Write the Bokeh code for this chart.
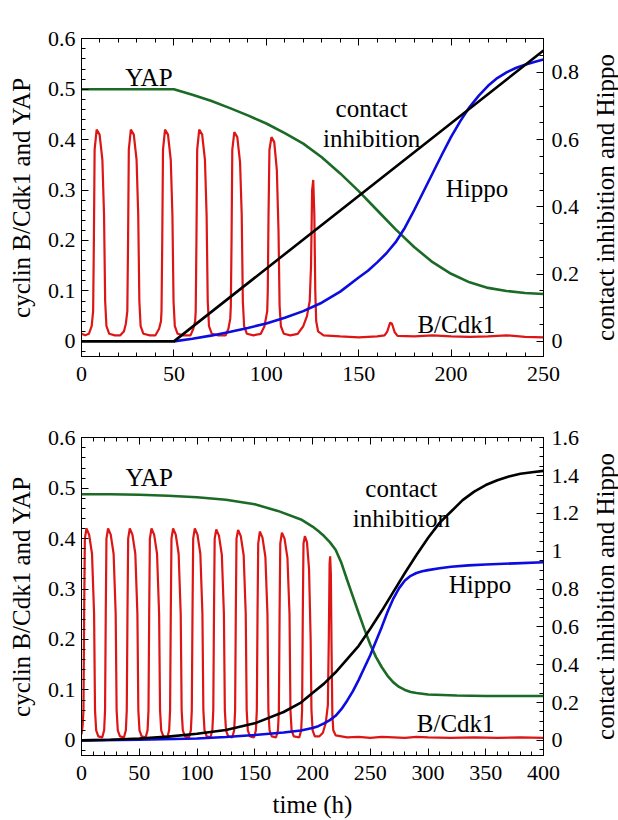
import math
from bokeh.plotting import figure
from bokeh.models import (Range1d, LinearAxis, SingleIntervalTicker, FixedTicker, Label,
                          CustomJSTickFormatter)
from bokeh.layouts import column, row
from bokeh.embed import file_html
from bokeh.resources import INLINE
from bokeh.core.properties import value

# ---------------- Panel (a) data ----------------
a_cdk1_pts = [
    (0, 0.015), (2, 0.012), (4, 0.015), (5.5, 0.03), (6.3, 0.06), (6.7, 0.2), (7.1, 0.38),
    (8.2, 0.42), (9.8, 0.41), (11.3, 0.36), (12.2, 0.25), (12.8, 0.08), (13.5, 0.03),
    (15, 0.015), (18, 0.012), (21, 0.012), (23, 0.02), (24, 0.035), (24.8, 0.06),
    (25.2, 0.2), (25.6, 0.38), (26.7, 0.42), (28.3, 0.41), (29.8, 0.36), (30.7, 0.25),
    (31.3, 0.08), (32, 0.03), (33.5, 0.015), (37, 0.012), (40, 0.012), (42, 0.025),
    (43, 0.04), (43.3, 0.06), (43.7, 0.2), (44.1, 0.38), (45.2, 0.42), (46.8, 0.41),
    (48.3, 0.36), (49.2, 0.25), (49.8, 0.08), (50.5, 0.03), (52, 0.015), (55, 0.012),
    (59, 0.012), (60.5, 0.025), (61.5, 0.04), (61.8, 0.06), (62.2, 0.2), (62.6, 0.38),
    (63.7, 0.42), (65.3, 0.41), (66.8, 0.36), (67.7, 0.25), (68.3, 0.08), (69, 0.03),
    (70.5, 0.015), (74, 0.012), (78, 0.012), (79.5, 0.025), (80.5, 0.045), (80.8, 0.07),
    (81.2, 0.2), (81.6, 0.38), (82.7, 0.415), (84.3, 0.405), (85.8, 0.355), (86.7, 0.25),
    (87.3, 0.08), (88, 0.03), (89.5, 0.015), (93, 0.012), (97, 0.015), (99, 0.03),
    (100.5, 0.06), (100.8, 0.1), (101.2, 0.25), (101.7, 0.38), (102.8, 0.405), (104.3, 0.395),
    (105.7, 0.34), (106.6, 0.22), (107.2, 0.07), (107.9, 0.03), (109.5, 0.015), (113, 0.012),
    (117, 0.015), (120, 0.03), (122, 0.05), (123.5, 0.08), (124.2, 0.15), (124.8, 0.3),
    (125.4, 0.32), (126, 0.25), (126.5, 0.1), (127, 0.04), (128, 0.02), (131, 0.012),
    (140, 0.01), (150, 0.008), (160, 0.01), (164, 0.012), (165.5, 0.02), (167, 0.037),
    (168, 0.035), (169.5, 0.018), (171, 0.011), (180, 0.01), (190, 0.012), (200, 0.01),
    (210, 0.009), (220, 0.01), (230, 0.012), (240, 0.009), (250, 0.008),
]
a_time_yap = [0, 50, 60, 70, 80, 90, 100, 110, 120, 130, 140, 150, 160, 170, 180, 190,
              200, 210, 220, 230, 240, 250]
a_yap = [0.5, 0.5, 0.489, 0.477, 0.463, 0.448, 0.432, 0.413, 0.392, 0.365, 0.333, 0.298,
         0.26, 0.222, 0.187, 0.157, 0.134, 0.117, 0.106, 0.1, 0.096, 0.094]
a_time_ci = [0, 50, 250]
a_ci = [0, 0, 0.865]
a_time_hippo = [50, 60, 70, 80, 90, 100, 110, 120, 130, 140, 150, 155, 160, 165, 170, 175,
                180, 185, 190, 195, 200, 205, 210, 215, 220, 225, 230, 235, 240, 245, 250]
a_hippo = [0, 0.008, 0.017, 0.028, 0.04, 0.053, 0.07, 0.09, 0.115, 0.148, 0.19, 0.21,
           0.235, 0.262, 0.295, 0.338, 0.39, 0.445, 0.5, 0.555, 0.608, 0.655, 0.697, 0.731,
           0.76, 0.783, 0.80, 0.813, 0.823, 0.831, 0.838]
a_labels = ["YAP", "contact", "inhibition", "Hippo", "B/Cdk1"]
a_label_x = [36.5, 157, 157, 214, 202.8]
a_label_y = [0.523, 0.462, 0.402, 0.303, 0.034]

# ---------------- Panel (b) data ----------------
b_cdk1_pts = [
    (0, 0.012), (1.0, 0.03), (1.7, 0.06), (2.3, 0.25), (2.9, 0.40), (4.3, 0.42), (6.6, 0.408),
    (9.1, 0.37), (10.9, 0.25), (11.7, 0.06), (12.7, 0.02), (14.6, 0.008),
    (18.0, 0.006), (19.6, 0.02), (20.4, 0.06), (21.0, 0.25), (21.6, 0.40), (23.0, 0.42),
    (25.3, 0.408), (27.8, 0.37), (29.6, 0.25), (30.4, 0.06), (31.4, 0.02), (33.3, 0.008),
    (36.8, 0.006), (38.4, 0.02), (39.2, 0.06), (39.8, 0.25), (40.4, 0.40), (41.8, 0.42),
    (44.1, 0.408), (46.6, 0.37), (48.4, 0.25), (49.2, 0.06), (50.2, 0.02), (52.1, 0.008),
    (55.6, 0.006), (57.2, 0.02), (58.0, 0.06), (58.6, 0.25), (59.2, 0.40), (60.6, 0.42),
    (62.9, 0.408), (65.4, 0.37), (67.2, 0.25), (68.0, 0.06), (69.0, 0.02), (70.9, 0.008),
    (74.3, 0.006), (75.9, 0.02), (76.7, 0.06), (77.3, 0.25), (77.9, 0.40), (79.3, 0.42),
    (81.6, 0.408), (84.1, 0.37), (85.9, 0.25), (86.7, 0.06), (87.7, 0.02), (89.6, 0.008),
    (93.1, 0.006), (94.7, 0.02), (95.5, 0.06), (96.1, 0.25), (96.7, 0.40), (98.1, 0.42),
    (100.4, 0.408), (102.9, 0.37), (104.7, 0.25), (105.5, 0.06), (106.5, 0.02), (108.4, 0.008),
    (111.7, 0.006), (113.3, 0.02), (114.1, 0.06), (114.7, 0.25), (115.3, 0.40), (116.7, 0.418),
    (119.0, 0.406), (121.5, 0.368), (123.3, 0.25), (124.1, 0.06), (125.1, 0.02), (127.0, 0.008),
    (130.6, 0.006), (132.2, 0.02), (133.0, 0.06), (133.6, 0.25), (134.2, 0.40), (135.6, 0.417),
    (137.9, 0.405), (140.4, 0.367), (142.2, 0.25), (143.0, 0.06), (144.0, 0.02), (145.9, 0.008),
    (149.4, 0.006), (151.0, 0.02), (151.8, 0.06), (152.4, 0.25), (153.0, 0.39), (154.4, 0.414),
    (156.7, 0.402), (159.2, 0.364), (161.0, 0.25), (161.8, 0.06), (162.8, 0.02), (164.7, 0.008),
    (168.5, 0.006), (170.1, 0.02), (170.9, 0.06), (171.5, 0.25), (172.1, 0.39), (173.5, 0.412),
    (175.8, 0.40), (178.3, 0.362), (180.1, 0.25), (180.9, 0.06), (181.9, 0.02), (183.8, 0.008),
    (188.6, 0.006), (190.2, 0.02), (191.0, 0.06), (191.6, 0.25), (192.2, 0.39), (193.4, 0.405),
    (195.2, 0.393), (197.0, 0.34), (198.4, 0.2), (199.1, 0.06), (200.1, 0.02), (202.0, 0.008),
    (206, 0.008), (209, 0.015), (211.5, 0.035), (213.3, 0.07), (214.1, 0.2), (214.8, 0.35),
    (215.3, 0.365), (215.9, 0.33), (216.5, 0.18), (217.2, 0.05), (218, 0.02), (220, 0.01),
    (230, 0.006), (240, 0.007), (250, 0.005), (260, 0.007), (270, 0.006), (280, 0.005),
    (290, 0.007), (300, 0.006), (320, 0.005), (340, 0.006), (360, 0.005), (380, 0.006),
    (400, 0.005),
]
b_time_yap = [0, 25, 50, 75, 100, 125, 150, 170, 190, 200, 205, 210, 215, 220, 225, 230,
              235, 240, 245, 250, 255, 260, 265, 270, 275, 280, 285, 290, 300, 325, 350,
              375, 400]
b_yap = [0.488, 0.488, 0.487, 0.485, 0.482, 0.477, 0.468, 0.455, 0.438, 0.424, 0.415, 0.405,
         0.393, 0.378, 0.352, 0.318, 0.285, 0.252, 0.22, 0.19, 0.165, 0.145, 0.128, 0.115,
         0.106, 0.100, 0.096, 0.094, 0.091, 0.089, 0.088, 0.088, 0.088]
b_time_ci = [0, 25, 50, 75, 100, 125, 150, 175, 190, 200, 210, 220, 230, 240, 250, 260,
             270, 280, 290, 300, 310, 320, 330, 340, 350, 360, 370, 380, 390, 400]
b_ci = [0, 0.003, 0.01, 0.02, 0.035, 0.055, 0.09, 0.15, 0.2, 0.25, 0.3, 0.36, 0.43, 0.50,
        0.59, 0.685, 0.785, 0.885, 0.98, 1.07, 1.15, 1.21, 1.27, 1.315, 1.35, 1.375, 1.395,
        1.41, 1.418, 1.425]
b_time_hippo = [0, 50, 100, 125, 150, 175, 190, 200, 205, 210, 215, 220, 225, 230, 235,
                240, 245, 250, 255, 260, 265, 270, 275, 280, 285, 290, 295, 300, 310, 320,
                335, 350, 375, 400]
b_hippo = [0, 0.003, 0.01, 0.018, 0.028, 0.042, 0.052, 0.065, 0.075, 0.09, 0.107, 0.13,
           0.165, 0.21, 0.26, 0.32, 0.385, 0.45, 0.525, 0.6, 0.68, 0.75, 0.805, 0.845, 0.87,
           0.885, 0.894, 0.9, 0.91, 0.918, 0.925, 0.93, 0.936, 0.942]
b_labels = ["YAP", "contact", "inhibition", "Hippo", "B/Cdk1"]
b_label_x = [58.6, 277, 277, 345, 324]
b_label_y = [0.522, 0.50, 0.44, 0.309, 0.034]

LEFT_TITLE = "cyclin B/Cdk1 and YAP"
RIGHT_TITLE = "contact inhibition and Hippo"

RED = "#dd1515"
GREEN = "#1b6a25"
BLUE = "#0c0ce0"
BLACK = "#000000"
FONT = "'Liberation Serif', 'Times New Roman', 'DejaVu Serif', serif"
TICK_SIZE = "22px"
TITLE_SIZE = "25px"
ANN_SIZE = "25px"

FRAME_W = 462.0   # px, frame width
BORDER_L = 81
MAIN_W = 584
TITLE_W = 618 - MAIN_W
Y_LO, Y_HI = -0.03, 0.6005   # tiny headroom so the 0.6 tick is labelled


def style_axis(ax, label=True):
    ax.axis_line_color = "black"
    ax.axis_line_width = 1
    ax.major_tick_line_color = "black"
    ax.minor_tick_line_color = "black"
    ax.major_tick_in = 7
    ax.major_tick_out = 0
    ax.minor_tick_in = 4
    ax.minor_tick_out = 0
    ax.major_label_text_font = FONT
    ax.major_label_text_font_style = "normal"
    ax.major_label_text_color = "black"
    ax.axis_label_text_font = FONT
    ax.axis_label_text_font_style = "normal"
    ax.axis_label_text_font_size = TITLE_SIZE
    ax.axis_label_text_color = "black"
    ax.major_label_text_font_size = TICK_SIZE
    if not label:
        ax.formatter = CustomJSTickFormatter(code="return '';")
        ax.major_label_standoff = 0


def make_panel(height, border_top, border_bottom, xmax, rscale, rint,
               cdk1_pts, t_yap, yap, t_ci, ci, t_hip, hip,
               labels, lx, ly, tag, tag_y, xlabel=None):
    yrange = Range1d(Y_LO, Y_HI)
    p = figure(width=MAIN_W, height=height, x_range=Range1d(0, xmax),
               y_range=yrange, output_backend="svg",
               toolbar_location=None, x_axis_type=None, y_axis_type=None,
               min_border_left=BORDER_L, min_border_right=MAIN_W - BORDER_L - int(FRAME_W),
               min_border_top=border_top, min_border_bottom=border_bottom)
    p.extra_y_ranges = {"r": Range1d(Y_LO * rscale, Y_HI * rscale)}
    p.outline_line_color = "black"
    p.outline_line_width = 1
    p.outline_line_alpha = 1
    p.background_fill_color = "white"
    p.border_fill_color = "white"

    xb = LinearAxis(ticker=SingleIntervalTicker(interval=50, num_minor_ticks=5))
    style_axis(xb)
    xb.major_label_standoff = 10
    if xlabel:
        xb.axis_label = xlabel
        xb.axis_label_standoff = 8
    p.add_layout(xb, "below")

    xt = LinearAxis(ticker=SingleIntervalTicker(interval=50, num_minor_ticks=5))
    style_axis(xt, label=False)
    p.add_layout(xt, "above")

    yl = LinearAxis(ticker=SingleIntervalTicker(interval=0.1, num_minor_ticks=5),
                    axis_label=LEFT_TITLE,
                    major_label_overrides={0: "0"})
    style_axis(yl)
    yl.major_label_standoff = 6
    yl.axis_label_standoff = 10
    p.add_layout(yl, "left")

    yr = LinearAxis(y_range_name="r",
                    ticker=SingleIntervalTicker(interval=rint, num_minor_ticks=4),
                    major_label_overrides={0: "0"})
    style_axis(yr)
    yr.major_label_standoff = 8
    p.add_layout(yr, "right")

    ct = [q[0] for q in cdk1_pts]
    cv = [q[1] for q in cdk1_pts]
    p.line(ct, cv, line_color=RED, line_width=2.2)
    p.line(t_yap, yap, line_color=GREEN, line_width=2.6)
    p.line(t_hip, hip, line_color=BLUE, line_width=2.6, y_range_name="r")
    p.line(t_ci, ci, line_color=BLACK, line_width=2.6, y_range_name="r")

    p.text(x=lx, y=ly, text=labels, text_font=value(FONT), text_font_size=ANN_SIZE,
           text_align="center", text_baseline="middle", text_color="black")

    px_per_x = FRAME_W / xmax
    lab = Label(x=-(BORDER_L - 1) / px_per_x, y=tag_y, text=tag, text_font=FONT,
                text_font_style="italic", text_font_size="22px",
                text_baseline="middle", text_align="left", text_color="black")
    p.add_layout(lab)

    # narrow companion figure that carries the right-hand axis title (reads bottom-to-top)
    t = figure(width=TITLE_W, height=height, x_range=Range1d(0, 1), y_range=yrange,
               output_backend="svg", toolbar_location=None,
               x_axis_type=None, y_axis_type=None,
               min_border_left=TITLE_W - 2, min_border_right=0,
               min_border_top=border_top, min_border_bottom=border_bottom)
    t.outline_line_color = None
    t.background_fill_color = "white"
    t.border_fill_color = "white"
    ta = LinearAxis(ticker=FixedTicker(ticks=[]), axis_label=RIGHT_TITLE,
                    formatter=CustomJSTickFormatter(code="return '';"))
    ta.axis_line_color = None
    ta.major_tick_line_color = None
    ta.minor_tick_line_color = None
    ta.major_label_standoff = 0
    ta.axis_label_standoff = -2
    ta.axis_label_text_font = FONT
    ta.axis_label_text_font_style = "normal"
    ta.axis_label_text_font_size = TITLE_SIZE
    ta.axis_label_text_color = "black"
    t.add_layout(ta, "left")
    return row(p, t, spacing=0)


p1 = make_panel(400, 38, 44, 250, 1.5, 0.2,
                a_cdk1_pts, a_time_yap, a_yap, a_time_ci, a_ci, a_time_hippo, a_hippo,
                a_labels, a_label_x, a_label_y, "(a)", 0.6 + 23 / 504.7)
p2 = make_panel(420, 37, 65, 400, 1.6 / 0.6, 0.2,
                b_cdk1_pts, b_time_yap, b_yap, b_time_ci, b_ci, b_time_hippo, b_hippo,
                b_labels, b_label_x, b_label_y, "(b)", 0.6 + 22 / 504.7, xlabel="time (h)")

layout = column(p1, p2, spacing=0)
open("out.html", "w").write(file_html(layout, INLINE))
